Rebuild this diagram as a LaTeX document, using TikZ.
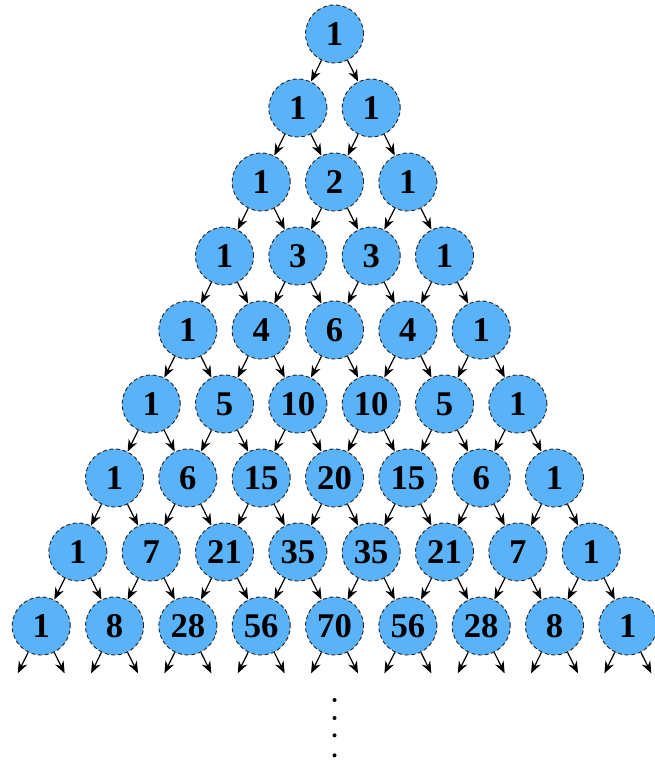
\documentclass[tikz,border=0pt]{standalone}
\usepackage{fontspec}
\setmainfont{Liberation Serif}
\usetikzlibrary{arrows.meta}
\definecolor{cellblue}{RGB}{90,178,248}
\tikzset{
  cell/.style={circle,fill=cellblue,draw=black!85,densely dashed,line width=0.7pt,
    minimum size=43.5pt,inner sep=0pt,font=\fontsize{26}{26}\selectfont\bfseries},
  link/.style={-{Stealth[length=9pt,width=7pt]},line width=0.9pt,solid}
}
\begin{document}
\begin{tikzpicture}[x=27.5pt,y=55.5pt]
\useasboundingbox (-250.9pt,25.5pt) rectangle (239.6pt,-544.5pt);
% rows of the triangle
\foreach \r/\vals in {0/{1},1/{1,1},2/{1,2,1},3/{1,3,3,1},4/{1,4,6,4,1},
    5/{1,5,10,10,5,1},6/{1,6,15,20,15,6,1},7/{1,7,21,35,35,21,7,1},
    8/{1,8,28,56,70,56,28,8,1}}{
  \foreach \v [count=\k from 0] in \vals{
    \node[cell] (n-\r-\k) at (2*\k-\r,-\r) {\v};
  }
}
% links to the next row
\foreach \r in {0,...,7}{
  \pgfmathtruncatemacro{\s}{\r+1}
  \foreach \k in {0,...,\r}{
    \pgfmathtruncatemacro{\kk}{\k+1}
    \draw[link] (n-\r-\k) -- (n-\s-\k);
    \draw[link] (n-\r-\k) -- (n-\s-\kk);
  }
}
% open ends under the last row
\foreach \k in {0,...,8}{
  \coordinate (l-\k) at (2*\k-8-0.64,-8.64);
  \coordinate (r-\k) at (2*\k-8+0.64,-8.64);
  \draw[link] (n-8-\k) -- (l-\k);
  \draw[link] (n-8-\k) -- (r-\k);
}
% dots
\foreach \y in {499.5,513,526,541}
  \fill (0,-\y pt) circle (1.5pt);
\end{tikzpicture}
\end{document}
